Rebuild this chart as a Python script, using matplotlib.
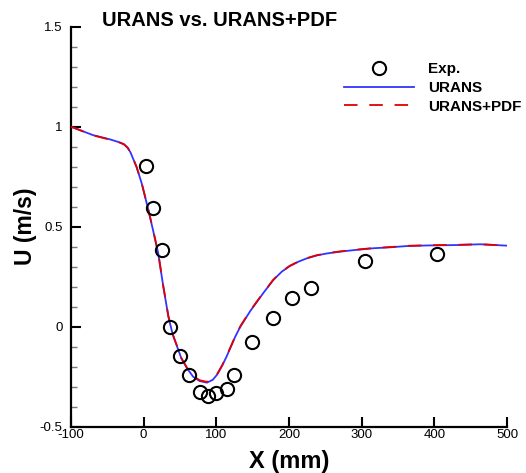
import matplotlib
matplotlib.use("Agg")
import matplotlib.pyplot as plt
from matplotlib.ticker import MultipleLocator

plt.rcParams['font.family'] = ['Liberation Sans', 'DejaVu Sans']

# Experimental velocity samples
exp_x = [3, 13, 25, 36, 50, 63, 78, 89, 100, 114, 124, 149, 178, 204, 230, 305, 404]
exp_u = [0.805, 0.593, 0.381, 0.0, -0.145, -0.24, -0.325, -0.346, -0.333, -0.313,
         -0.24, -0.077, 0.042, 0.144, 0.192, 0.33, 0.362]

# URANS prediction
urans_x = [-100, -70, -45, -32, -27, -22, -18, -14, -10, -3, 6, 13, 20, 27, 34, 40, 46,
           52, 60, 68, 77, 87, 95, 101, 108, 114, 120, 126, 133, 140, 147, 156, 165,
           178, 190, 201, 213, 224, 238, 252, 270, 290, 316, 340, 362, 390, 430, 463,
           500]
urans_u = [1.0, 0.958, 0.935, 0.92, 0.912, 0.895, 0.87, 0.835, 0.8, 0.72, 0.59, 0.48,
           0.367, 0.2, 0.05, -0.04, -0.1, -0.16, -0.21, -0.25, -0.272, -0.28, -0.266,
           -0.24, -0.195, -0.15, -0.1, -0.05, 0.0, 0.04, 0.08, 0.125, 0.17, 0.232,
           0.275, 0.303, 0.325, 0.341, 0.356, 0.366, 0.375, 0.383, 0.392, 0.397, 0.403,
           0.406, 0.408, 0.412, 0.405]

# URANS+PDF prediction
pdf_x = [-100, -70, -45, -32, -27, -22, -18, -14, -10, -3, 6, 13, 20, 27, 34, 40, 46,
         52, 60, 68, 77, 87, 95, 101, 108, 114, 120, 126, 133, 140, 147, 156, 165,
         178, 190, 201, 213, 224, 238, 252, 270, 290, 316, 340, 362, 390, 430, 463,
         500]
pdf_u = [1.0, 0.957, 0.934, 0.919, 0.911, 0.894, 0.871, 0.836, 0.801, 0.722, 0.592,
         0.482, 0.368, 0.202, 0.052, -0.038, -0.098, -0.158, -0.208, -0.247, -0.268,
         -0.276, -0.263, -0.238, -0.193, -0.148, -0.098, -0.048, 0.002, 0.042, 0.082,
         0.127, 0.171, 0.233, 0.276, 0.304, 0.326, 0.342, 0.357, 0.367, 0.376, 0.384,
         0.393, 0.398, 0.404, 0.407, 0.409, 0.412, 0.405]

fig = plt.figure(figsize=(5.26, 4.73), dpi=100)
ax = fig.add_axes([0.135, 0.098, 0.829, 0.8456])

ax.plot(urans_x, urans_u, color='#3333ff', lw=1.3, label='URANS', zorder=2)
ax.plot(pdf_x, pdf_u, color='#e00000', lw=1.3, linestyle=(0, (7.5, 6.5)),
        label='URANS+PDF', zorder=3)
ax.plot(exp_x, exp_u, linestyle='none', marker='o', ms=9.5, mfc='none',
        mec='black', mew=1.5, label='Exp.', zorder=4)

ax.set_xlim(-100, 500)
ax.set_ylim(-0.5, 1.5)
ax.xaxis.set_major_locator(MultipleLocator(100))
ax.yaxis.set_major_locator(MultipleLocator(0.5))
ax.yaxis.set_minor_locator(MultipleLocator(0.1))

ax.spines['top'].set_visible(False)
ax.spines['right'].set_visible(False)
for s in ('left', 'bottom'):
    ax.spines[s].set_linewidth(1.6)

ax.tick_params(axis='both', which='major', direction='in', length=7, width=1.5,
               labelsize=9.5)
ax.tick_params(axis='y', which='minor', direction='in', length=4, width=1.0,
               color='#777777')
ax.tick_params(axis='x', which='major', pad=2)
ax.tick_params(axis='y', which='major', pad=6)
ax.xaxis.set_major_formatter(plt.FuncFormatter(lambda v, p: f"{int(round(v))}"))
ax.yaxis.set_major_formatter(plt.FuncFormatter(lambda v, p: f"{v:g}"))

ax.set_xlabel('X (mm)', fontsize=17, fontweight='bold', labelpad=6)
ax.set_ylabel('U (m/s)', fontsize=16.5, fontweight='bold', labelpad=2)

fig.text(102 / 526, 1 - 26 / 473, 'URANS vs. URANS+PDF', fontsize=14.5,
         fontweight='bold', ha='left', va='baseline')

h, l = ax.get_legend_handles_labels()
order = [2, 0, 1]
ax.legend([h[i] for i in order], [l[i] for i in order], loc='upper left',
          bbox_to_anchor=(0.595, 0.945), frameon=False, handlelength=4.6,
          handletextpad=0.9, labelspacing=0.3,
          prop={'weight': 'bold', 'size': 11})

fig.savefig('out.png', dpi=100)
